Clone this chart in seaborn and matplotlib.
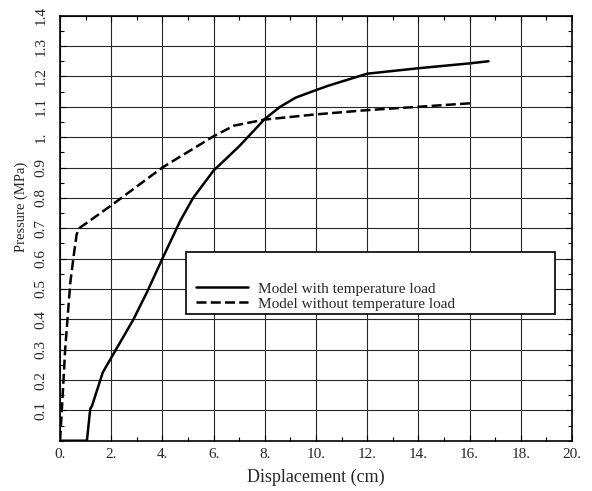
import pandas as pd
import matplotlib.pyplot as plt
import seaborn as sns
from matplotlib.patches import Rectangle
from matplotlib.ticker import FixedLocator, MultipleLocator

# Curve: model with temperature load
with_temp_x = [0.0, 1.05, 1.18, 1.25, 1.67, 2.87, 3.4, 4.0, 4.7, 5.2, 6.0, 7.0, 8.0, 8.6,
               9.2, 10.0, 10.5, 12.0, 14.0, 16.0, 16.74]
with_temp_y = [0.0, 0.0, 0.105, 0.115, 0.225, 0.40, 0.49, 0.60, 0.725, 0.80, 0.89, 0.97, 1.06,
               1.10, 1.13, 1.155, 1.17, 1.209, 1.227, 1.243, 1.25]

# Model without temperature load
no_temp_x = [0.0, 0.07, 0.2, 0.4, 0.55, 0.65, 0.75, 2.0, 4.0, 6.0, 6.8, 8.0, 10.0, 12.0,
             14.0, 16.1]
no_temp_y = [0.0, 0.10, 0.30, 0.52, 0.62, 0.68, 0.70, 0.775, 0.90, 1.003, 1.038, 1.058,
             1.075, 1.089, 1.10, 1.112]

labels = ["Model with temperature load", "Model without temperature load"]

x_ticks = [0, 2, 4, 6, 8, 10, 12, 14, 16, 18, 20]
x_tick_labels = ["0.", "2.", "4.", "6.", "8.", "10.", "12.", "14.", "16.", "18.", "20."]
y_ticks = [0.1, 0.2, 0.3, 0.4, 0.5, 0.6, 0.7, 0.8, 0.9, 1.0, 1.1, 1.2, 1.3, 1.4]
y_tick_labels = ["0.1", "0.2", "0.3", "0.4", "0.5", "0.6", "0.7", "0.8", "0.9", "1.",
                 "1.1", "1.2", "1.3", "1.4"]

df_with = pd.DataFrame({"disp": with_temp_x, "pressure": with_temp_y})
df_without = pd.DataFrame({"disp": no_temp_x, "pressure": no_temp_y})

sns.set_style("ticks")
plt.rcParams["font.family"] = ["Liberation Serif", "DejaVu Serif"]

fig = plt.figure(figsize=(5.92, 4.91), dpi=100)
ax = fig.add_axes([0.1014, 0.1024, 0.8648, 0.8656])

sns.lineplot(data=df_with, x="disp", y="pressure", ax=ax, color="black", lw=1.8,
             estimator=None, sort=False, label=labels[0])
sns.lineplot(data=df_without, x="disp", y="pressure", ax=ax, color="black", lw=1.8,
             estimator=None, sort=False, linestyle=(0, (4, 1.7)), label=labels[1])

ax.set_xlim(0, 20)
ax.set_ylim(0, 1.4)

ax.xaxis.set_major_locator(FixedLocator(x_ticks))
ax.set_xticklabels(x_tick_labels, fontsize=11)
ax.xaxis.set_minor_locator(MultipleLocator(1))
ax.yaxis.set_major_locator(FixedLocator(y_ticks))
ax.set_yticklabels(y_tick_labels, fontsize=11, rotation=90, va="center")
ax.yaxis.set_minor_locator(MultipleLocator(0.05))

ax.tick_params(which="both", direction="in", top=True, right=True, color="black")
ax.tick_params(which="major", length=4, width=0.8)
ax.tick_params(which="minor", length=3, width=0.8)
ax.tick_params(axis="x", pad=5)
ax.tick_params(axis="y", pad=9)

ax.grid(True, which="major", color="0.15", lw=0.8)
for s in ax.spines.values():
    s.set_color("black")
    s.set_linewidth(1.2)

ax.set_xlabel("Displacement (cm)", fontsize=13, labelpad=6)
ax.set_ylabel("Pressure (MPa)", fontsize=10.5)
ax.yaxis.set_label_coords(-0.062, 0.55)

# Legend box: a white frame with the entries sitting in its lower half
box = Rectangle((0.2456, 0.298), 0.7216, 0.146, transform=ax.transAxes,
                facecolor="white", edgecolor="black", lw=1.2, zorder=5)
ax.add_patch(box)
leg = ax.legend(loc="lower left", bbox_to_anchor=(0.265, 0.306), frameon=False,
                fontsize=11, handlelength=3.4, handletextpad=0.7, labelspacing=0.08,
                borderpad=0, borderaxespad=0)
leg.set_zorder(6)

fig.savefig("out.png", dpi=100)
